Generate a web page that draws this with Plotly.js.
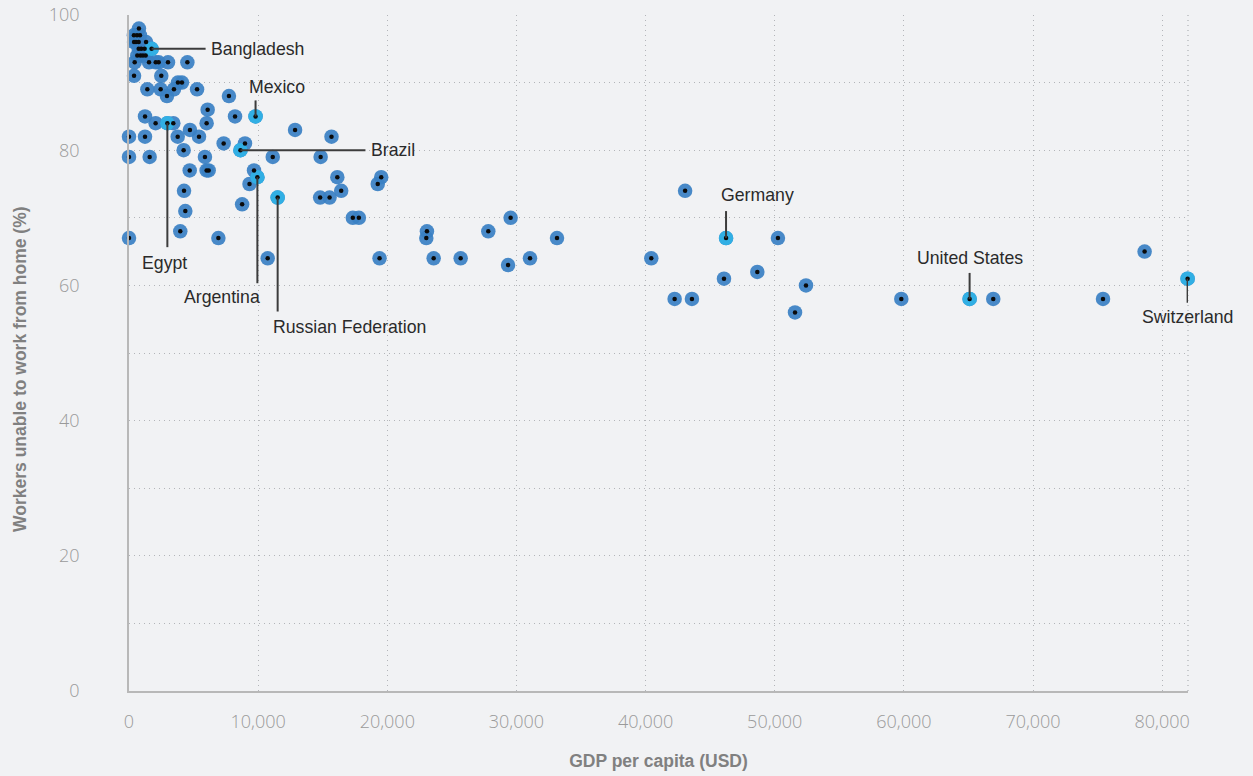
<!DOCTYPE html>
<html>
<head>
<meta charset="utf-8">
<script src="https://cdn.plot.ly/plotly-3.0.1.min.js"></script>
<style>html,body{margin:0;padding:0;background:#f1f2f4;}#chart{width:1253px;height:776px;}</style>
</head>
<body>
<div id="chart"></div>
<script>
// GDP per capita (USD) and share of workers unable to work from home (%)
const gdp = [
  770,
  380, 620, 850,
  390, 540, 750, 1320,
  750, 950, 1210, 1750,
  640, 880, 1080, 1290,
  440, 1550, 2070, 2300, 3020, 4520,
  390, 2500,
  3790, 4100,
  1420, 2450, 3480, 5270,
  2940, 7740,
  6090,
  1240, 8210, 9800,
  2060, 2970, 3430, 6010,
  4720, 12860,
  0, 1240, 3770, 5420, 15680,
  7330, 8980,
  8630, 4230,
  0, 1600, 5880, 11130, 14840,
  4700, 6010, 6170, 9680,
  9940, 16130, 19530,
  9330, 19260,
  4260, 16430, 43060,
  11510, 14800, 15530,
  8760,
  4360,
  17330, 17800, 29550,
  3970, 23070, 27820,
  0, 6920, 23020, 33140, 46230, 50250,
  78640,
  10740, 19400, 23590, 25680, 31050, 40440,
  29350,
  48650,
  46070, 81970,
  52420,
  42250, 43590, 59800, 65090, 66920, 75420,
  51570
];
const unable = [
  98,
  97, 97, 97,
  96, 96, 96, 96,
  95, 95, 95, 95,
  94, 94, 94, 94,
  93, 93, 93, 93, 93, 93,
  91, 91,
  90, 90,
  89, 89, 89, 89,
  88, 88,
  86,
  85, 85, 85,
  84, 84, 84, 84,
  83, 83,
  82, 82, 82, 82, 82,
  81, 81,
  80, 80,
  79, 79, 79, 79, 79,
  77, 77, 77, 77,
  76, 76, 76,
  75, 75,
  74, 74, 74,
  73, 73, 73,
  72,
  71,
  70, 70, 70,
  68, 68, 68,
  67, 67, 67, 67, 67, 67,
  65,
  64, 64, 64, 64, 64, 64,
  63,
  62,
  61, 61,
  60,
  58, 58, 58, 58, 58, 58,
  56
];
// Labelled countries (highlighted)
const labelNames = ["Bangladesh", "Mexico", "Brazil", "Egypt", "Argentina", "Russian Federation", "Germany", "United States", "Switzerland"];
const labelGdp   = [1750, 9800, 8630, 2970, 9940, 11510, 46230, 65090, 81970];
const labelPct   = [95, 85, 80, 84, 76, 73, 67, 58, 61];

const xTitle = "GDP per capita (USD)";
const yTitle = "Workers unable to work from home (%)";

// Label placement (pixel offsets from the point): connector end, text shift, anchor
const place = {
  "Bangladesh":         {lx: 54,  ly: 0,    tx: 57,  ty: 0,    xa: "left"},
  "Mexico":             {lx: 0,   ly: 16,   tx: -9,  ty: 29,   xa: "left"},
  "Brazil":             {lx: 125, ly: 0,    tx: 129, ty: 0,    xa: "left"},
  "Egypt":              {lx: 0,   ly: -124, tx: -3,  ty: -140, xa: "center"},
  "Argentina":          {lx: 0,   ly: -106, tx: 5,   ty: -120, xa: "right"},
  "Russian Federation": {lx: 0,   ly: -114, tx: -7,  ty: -129, xa: "left"},
  "Germany":            {lx: 0,   ly: 27,   tx: -7,  ty: 43,   xa: "left"},
  "United States":      {lx: 0,   ly: 26,   tx: 0,   ty: 41,   xa: "center"},
  "Switzerland":        {lx: 0,   ly: -24,  tx: 0,   ty: -38,  xa: "center"}
};

const blue = "#3a80c3";
const lightBlue = "#31afe4";
const gridCol = "#b3b5b9";

const traces = [
  {
    x: gdp, y: unable, type: "scatter", mode: "markers", cliponaxis: false, hoverinfo: "x+y",
    marker: {size: 14.5, color: blue, opacity: 0.92, line: {width: 0}}
  },
  {
    x: labelGdp, y: labelPct, text: labelNames, type: "scatter", mode: "markers", cliponaxis: false, hoverinfo: "text",
    marker: {size: 14.5, color: lightBlue, opacity: 1, line: {width: 0}}
  },
  {
    x: gdp, y: unable, type: "scatter", mode: "markers", cliponaxis: false, hoverinfo: "skip",
    marker: {size: 4.5, color: "#0a0a0a", line: {width: 0}}
  }
];

const shapes = [];
const annotations = [];
labelNames.forEach((name, i) => {
  const p = place[name];
  shapes.push({
    type: "line", xref: "x", yref: "y", xsizemode: "pixel", ysizemode: "pixel",
    xanchor: labelGdp[i], yanchor: labelPct[i],
    x0: 0, y0: 0, x1: p.lx, y1: p.ly,
    line: {color: "#3c3c3c", width: 2}, layer: "above"
  });
  annotations.push({
    x: labelGdp[i], y: labelPct[i], xref: "x", yref: "y", text: name, showarrow: false,
    xanchor: p.xa, yanchor: "middle", xshift: p.tx, yshift: p.ty,
    font: {family: "Liberation Sans, Arial, sans-serif", size: 17.7, color: "#2a2a2a"}
  });
});
// y-axis title as rotated annotation
annotations.push({
  xref: "paper", yref: "paper", x: 0, y: 0.475, xshift: -109, xanchor: "center", yanchor: "middle",
  text: yTitle, textangle: -90, showarrow: false,
  font: {family: "Liberation Sans, Arial, sans-serif", size: 17.5, color: "#808080", weight: "bold"}
});
// right edge dotted border
shapes.push({type: "line", xref: "paper", yref: "paper", x0: 1, x1: 1, y0: 0, y1: 1,
  line: {color: gridCol, width: 1.3, dash: "1px,4px"}, layer: "below"});

const tickFont = {family: "Open Sans, Liberation Sans, sans-serif", size: 18, color: "#9a9a9a", weight: 300};
const titleFont = {family: "Liberation Sans, Arial, sans-serif", size: 17.5, color: "#808080", weight: "bold"};

const layout = {
  width: 1253, height: 776,
  paper_bgcolor: "#f1f2f4", plot_bgcolor: "#f1f2f4",
  margin: {l: 129, r: 65, t: 15, b: 85},
  showlegend: false,
  xaxis: {
    range: [0, 82000], dtick: 10000, tick0: 0, tickformat: ",d",
    showgrid: true, gridcolor: gridCol, griddash: "1px,4px", gridwidth: 1.3,
    zeroline: false, showline: true, linecolor: "#b8b8b8", linewidth: 1.5,
    ticks: "", ticklabelstandoff: 14, tickfont: tickFont,
    title: {text: xTitle, font: titleFont, standoff: 22}
  },
  yaxis: {
    range: [0, 100], dtick: 20, tick0: 0,
    showgrid: true, gridcolor: gridCol, griddash: "1px,4px", gridwidth: 1.3,
    minor: {dtick: 10, showgrid: true, gridcolor: gridCol, griddash: "1px,4px", gridwidth: 1.3},
    zeroline: false, showline: true, linecolor: "#b8b8b8", linewidth: 1.5,
    ticks: "", ticklabelstandoff: 44, tickfont: tickFont
  },
  shapes: shapes,
  annotations: annotations
};

Plotly.newPlot("chart", traces, layout, {displayModeBar: false, responsive: false});
</script>
</body>
</html>
